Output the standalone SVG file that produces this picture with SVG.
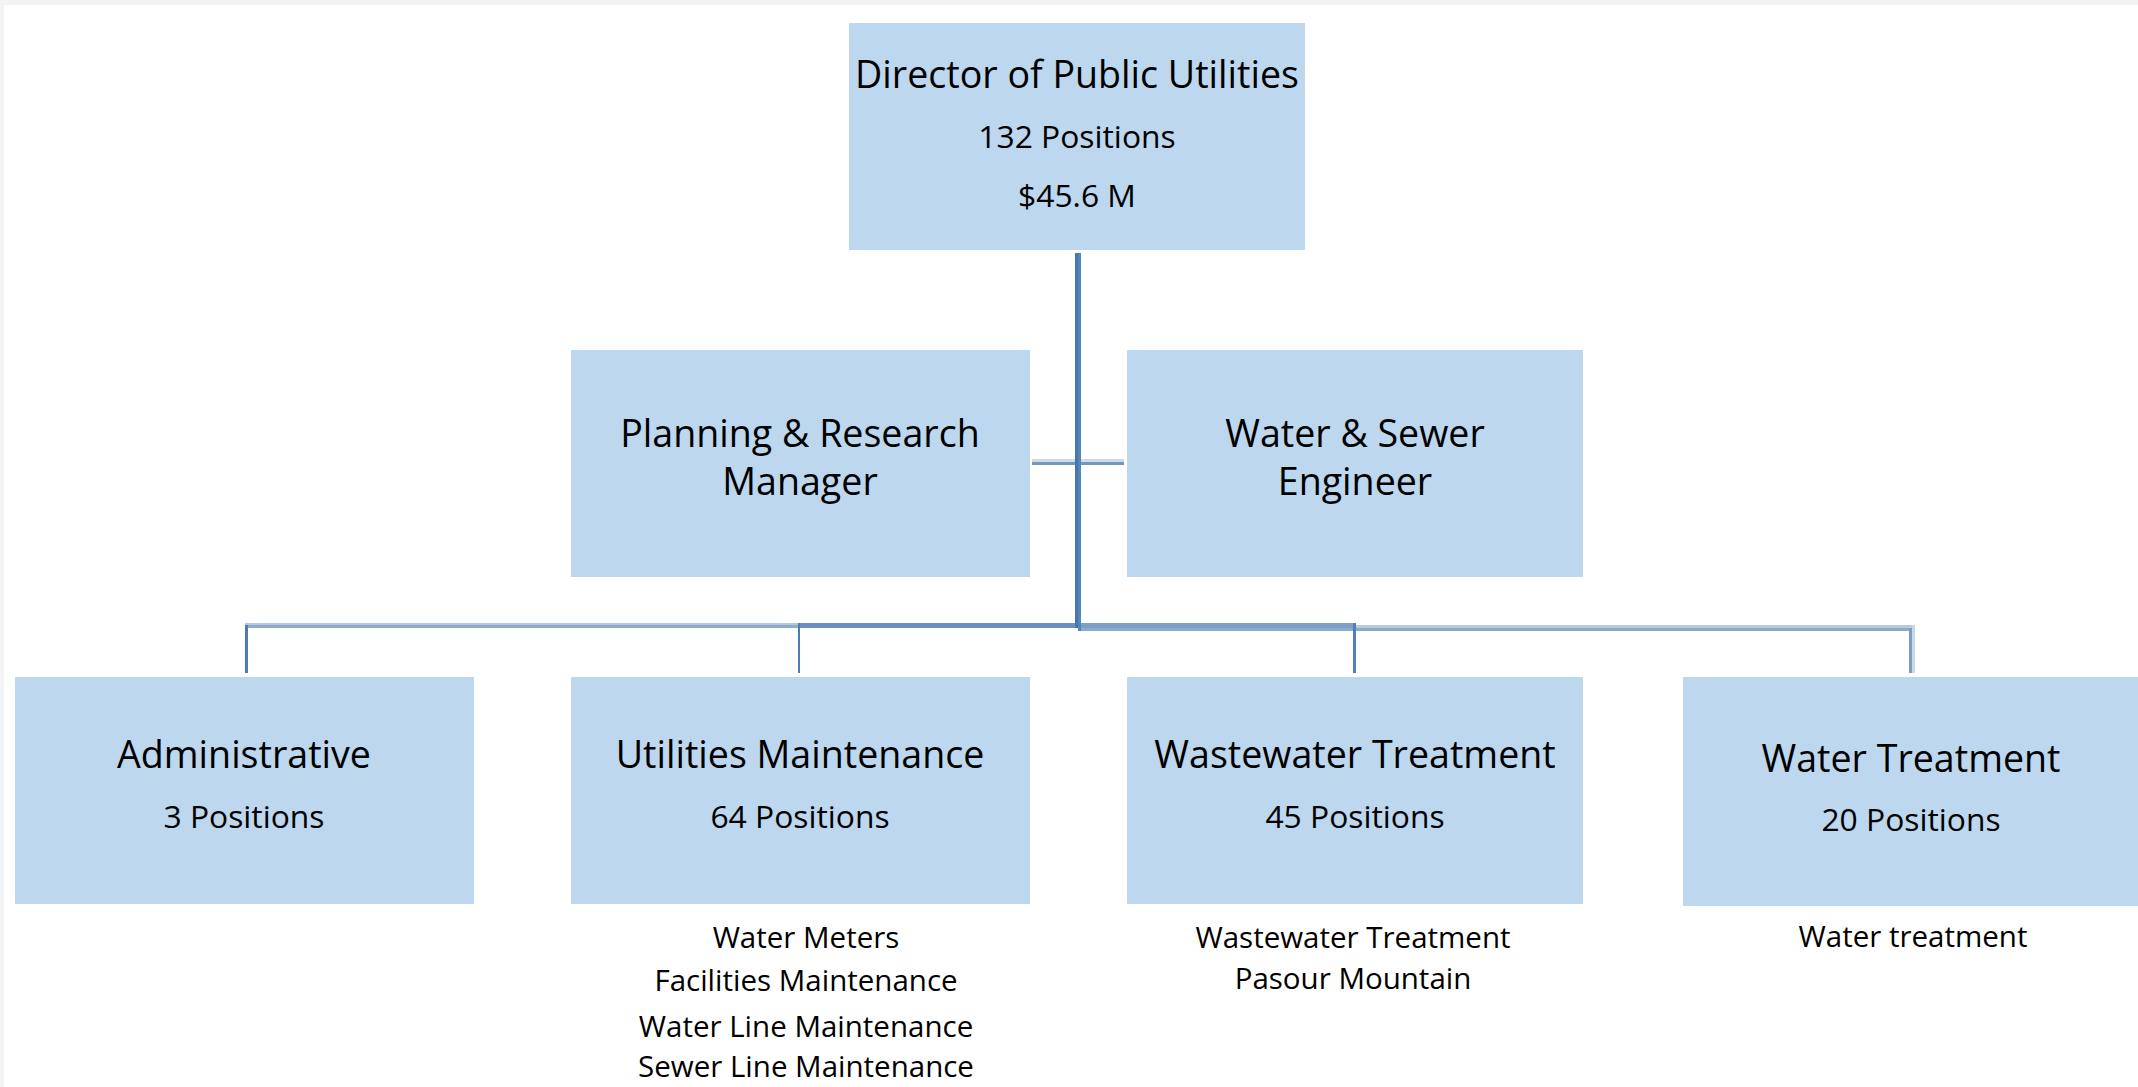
<svg xmlns="http://www.w3.org/2000/svg" width="2138" height="1087" viewBox="0 0 2138 1087">
<style>
.box{fill:#BDD7EE}
text{font-family:"Open Sans","Liberation Sans",sans-serif;fill:#000;text-anchor:middle}
.t{font-size:37.6px}
.s{font-size:31.8px}
.n{font-size:29.5px}
</style>
<rect x="0" y="0" width="2138" height="1087" fill="#ffffff"/>
<rect x="0" y="0" width="2138" height="5" fill="#f3f3f3"/>
<rect x="0" y="0" width="4" height="1087" fill="#f3f3f3"/>
<g id="connectors">
  <rect x="1078" y="625" width="837" height="3" fill="#b8cadb"/>
  <rect x="1078" y="628" width="834" height="3" fill="#8aaccc"/>
  <rect x="1909" y="628" width="3" height="45" fill="#7a9fc6"/>
  <rect x="1912" y="625" width="3" height="48" fill="#c8d8e6"/>
  <rect x="1078" y="623" width="278" height="5" fill="#7c9fc6"/>
  <rect x="1353" y="623" width="3" height="50" fill="#5080b4"/>
  <rect x="245" y="623" width="833" height="2" fill="#b8c8d8"/>
  <rect x="245" y="625" width="833" height="3" fill="#8aaccc"/>
  <rect x="245" y="625" width="3" height="48" fill="#4a7eb0"/>
  <rect x="798" y="623" width="280" height="5" fill="#6a92c0"/>
  <rect x="798" y="623" width="2" height="50" fill="#4a7eb0"/>
  <rect x="1032" y="459" width="92" height="3" fill="#d0dbe6"/>
  <rect x="1032" y="462" width="92" height="3" fill="#7098c2"/>
  <rect x="1075" y="253" width="3" height="375" fill="#4477aa"/>
  <rect x="1078" y="253" width="3" height="378" fill="#5586b8"/>
</g>
<g id="director">
  <rect class="box" x="849" y="23" width="456" height="227"/>
  <text class="t" x="1077" y="88">Director of Public Utilities</text>
  <text class="s" x="1077" y="148">132 Positions</text>
  <text class="s" x="1077" y="207">$45.6 M</text>
</g>
<g id="planning">
  <rect class="box" x="571" y="350" width="459" height="227"/>
  <text class="t" x="800" y="447">Planning &amp; Research</text>
  <text class="t" x="800" y="495">Manager</text>
</g>
<g id="engineer">
  <rect class="box" x="1127" y="350" width="456" height="227"/>
  <text class="t" x="1355" y="447">Water &amp; Sewer</text>
  <text class="t" x="1355" y="495">Engineer</text>
</g>
<g id="administrative">
  <rect class="box" x="15" y="677" width="459" height="227"/>
  <text class="t" x="244" y="768">Administrative</text>
  <text class="s" x="244" y="828">3 Positions</text>
</g>
<g id="utilities">
  <rect class="box" x="571" y="677" width="459" height="227"/>
  <text class="t" x="800" y="768">Utilities Maintenance</text>
  <text class="s" x="800" y="828">64 Positions</text>
  <text class="n" x="806" y="948">Water Meters</text>
  <text class="n" x="806" y="991">Facilities Maintenance</text>
  <text class="n" x="806" y="1037">Water Line Maintenance</text>
  <text class="n" x="806" y="1077">Sewer Line Maintenance</text>
</g>
<g id="wastewater">
  <rect class="box" x="1127" y="677" width="456" height="227"/>
  <text class="t" x="1355" y="768">Wastewater Treatment</text>
  <text class="s" x="1355" y="828">45 Positions</text>
  <text class="n" x="1353" y="948">Wastewater Treatment</text>
  <text class="n" x="1353" y="989">Pasour Mountain</text>
</g>
<g id="water-treatment">
  <rect class="box" x="1683" y="677" width="455" height="229"/>
  <text class="t" x="1911" y="772">Water Treatment</text>
  <text class="s" x="1911" y="831">20 Positions</text>
  <text class="n" x="1913" y="947">Water treatment</text>
</g>
</svg>
